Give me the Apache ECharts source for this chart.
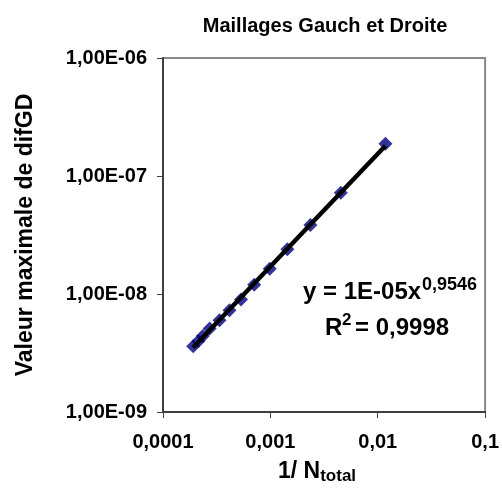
<!DOCTYPE html>
<html>
<head>
<meta charset="utf-8">
<script src="https://cdn.jsdelivr.net/npm/echarts@6/dist/echarts.min.js"></script>
<style>
  html, body { margin: 0; padding: 0; background: #fff; }
  #chart { width: 502px; height: 490px; }
</style>
</head>
<body>
<div id="chart"></div>
<script>
// 1/N_total values and max difGD
const invN = [0.0118, 0.00453, 0.00236, 0.00144, 0.000987, 0.000707, 0.000533, 0.000416, 0.000336, 0.000272, 0.000235, 0.000214, 0.000191]
const difGD = [1.88e-7, 7.2e-8, 3.84e-8, 2.4e-8, 1.64e-8, 1.2e-8, 9.0e-9, 7.3e-9, 6.0e-9, 5.1e-9, 4.4e-9, 4.0e-9, 3.6e-9]
const xTicks = ['0,0001', '0,001', '0,01', '0,1']
const yTicks = ['1,00E-09', '1,00E-08', '1,00E-07', '1,00E-06']

// power-law trendline (least squares in log space), like the spreadsheet
const lx = invN.map(v => Math.log10(v))
const ly = difGD.map(v => Math.log10(v))
const n = lx.length
const mx = lx.reduce((a, b) => a + b, 0) / n
const my = ly.reduce((a, b) => a + b, 0) / n
let sxy = 0, sxx = 0
for (let i = 0; i < n; i++) {
  sxy += (lx[i] - mx) * (ly[i] - my)
  sxx += (lx[i] - mx) * (lx[i] - mx)
}
const slope = sxy / sxx
const icpt = my - slope * mx
const xMin = Math.min(...invN)
const xMax = Math.max(...invN)
const trend = [xMin, xMax].map(x => [x, Math.pow(10, icpt + slope * Math.log10(x))])

const font = 'Liberation Sans, Arial, sans-serif'
const chart = echarts.init(document.getElementById('chart'))

const xLabel = v => xTicks[Math.round(Math.log10(v)) + 4] || ''
const yLabel = v => yTicks[Math.round(Math.log10(v)) + 9] || ''

// equation text pieces
const txt = (left, y, text, size) => ({
  type: 'text', x: left, y: y,
  style: { text: text, font: 'bold ' + size + 'px ' + font, fill: '#000', verticalAlign: 'middle' }
})

chart.setOption({
  animation: false,
  title: {
    text: 'Maillages Gauch et Droite',
    left: 320,
    textAlign: 'center',
    top: 11,
    textStyle: { fontFamily: font, fontWeight: 'bold', fontSize: 20, color: '#000' }
  },
  grid: {
    left: 163, right: 15, top: 58, bottom: 76,
    show: true, borderColor: '#888', borderWidth: 2, backgroundColor: '#fff'
  },
  xAxis: {
    type: 'log', logBase: 10, min: 0.0001, max: 0.1,
    name: '1/ N{sub|total}',
    nameLocation: 'middle',
    nameGap: 46,
    nameTextStyle: {
      fontFamily: font, fontWeight: 'bold', fontSize: 23, color: '#000',
      padding: [0, 14, 0, 0],
      rich: { sub: { fontFamily: font, fontWeight: 'bold', fontSize: 17, verticalAlign: 'bottom', padding: [10, 0, 0, 0] } }
    },
    axisLine: { show: true, lineStyle: { color: '#404040', width: 2 } },
    axisTick: { show: true, length: 6, lineStyle: { color: '#404040', width: 1 } },
    minorTick: { show: false },
    splitLine: { show: false },
    axisLabel: {
      margin: 20, fontFamily: font, fontWeight: 'bold', fontSize: 20, color: '#000',
      formatter: xLabel
    }
  },
  yAxis: {
    type: 'log', logBase: 10, min: 1e-9, max: 1e-6,
    name: 'Valeur maximale de difGD',
    nameLocation: 'middle',
    nameRotate: 90,
    nameGap: 126,
    nameTextStyle: { fontFamily: font, fontWeight: 'bold', fontSize: 23, color: '#000' },
    axisLine: { show: true, lineStyle: { color: '#404040', width: 2 } },
    axisTick: { show: true, length: 6, lineStyle: { color: '#404040', width: 1 } },
    splitLine: { show: false },
    axisLabel: {
      margin: 16, fontFamily: font, fontWeight: 'bold', fontSize: 20, color: '#000',
      formatter: yLabel
    }
  },
  series: [
    {
      type: 'scatter',
      data: invN.map((x, i) => [x, difGD[i]]),
      symbol: 'diamond',
      symbolSize: 14,
      itemStyle: { color: '#000080' },
      z: 2
    },
    {
      type: 'line',
      data: trend,
      showSymbol: false,
      lineStyle: { color: '#000', width: 4.5 },
      z: 3
    }
  ],
  graphic: [
    txt(303, 292, 'y = 1E-05x', 24),
    txt(422, 285, '0,9546', 18),
    txt(325, 328, 'R', 24),
    txt(342, 320, '2', 17),
    txt(355, 328, '= 0,9998', 24)
  ]
})
</script>
</body>
</html>
